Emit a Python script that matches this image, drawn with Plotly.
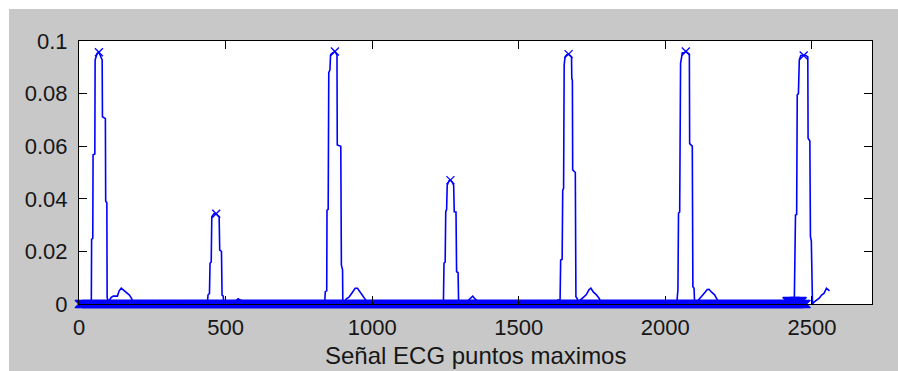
import plotly.graph_objects as go

# ---- data ----
signal_x = [
    0, 42, 43, 47, 48, 54, 55, 62, 68, 74, 79, 80, 90, 91, 95, 96, 99, 100,
    104, 110, 117, 131, 137, 144, 150, 157, 172, 180, 185,
    438, 440, 445, 447, 451, 453, 460, 468, 474, 478, 480, 486, 488, 492, 494,
    533, 538, 543, 550, 560, 570,
    838, 840, 845, 846, 850, 852, 856, 858, 865, 873, 880, 881, 893, 895, 899, 900,
    903, 912, 920, 930, 942, 950, 960, 970, 978, 982,
    1243, 1245, 1249, 1251, 1254, 1256, 1262, 1267, 1272, 1278, 1280, 1286, 1288, 1293, 1295,
    1315, 1325, 1335, 1343, 1350, 1360, 1372,
    1630, 1633, 1641, 1643, 1648, 1650, 1653, 1655, 1658, 1664, 1670, 1677, 1680, 1681,
    1683, 1684, 1693, 1695, 1700, 1702,
    1704, 1710, 1720, 1730, 1740, 1746, 1755, 1765, 1775, 1781,
    2039, 2041, 2043, 2045, 2049, 2052, 2055, 2058, 2064, 2070, 2076, 2082, 2083, 2092,
    2094, 2098, 2100,
    2105, 2113, 2122, 2132, 2143, 2149, 2158, 2168, 2178, 2184,
    2440, 2444, 2448, 2450, 2454, 2457, 2462, 2472, 2480, 2486, 2487, 2493, 2495, 2498,
    2500, 2502, 2508, 2516, 2525, 2533, 2541, 2550, 2560,
]
signal_y = [
    0, 0, 0.0246, 0.0250, 0.0567, 0.0570, 0.0928, 0.0953, 0.0957, 0.0940, 0.0928, 0.0712,
    0.0705, 0.0392, 0.0385, 0.0023, 0.0015, 0,
    0.0015, 0.0025, 0.0030, 0.0030, 0.0050, 0.0060, 0.0055, 0.0050, 0.0034, 0.0020, 0,
    0, 0.0034, 0.0040, 0.0155, 0.0160, 0.0332, 0.0343, 0.0343, 0.0335, 0.0332, 0.0205,
    0.0200, 0.0034, 0.0030, 0,
    0, 0.0015, 0.0020, 0.0015, 0.0010, 0,
    0, 0.0047, 0.0050, 0.0357, 0.0360, 0.0880, 0.0890, 0.0947, 0.0955, 0.0960, 0.0947,
    0.0605, 0.0600, 0.0148, 0.0130, 0,
    0, 0.0020, 0.0025, 0.0040, 0.0060, 0.0060, 0.0045, 0.0030, 0.0015, 0,
    0, 0.0155, 0.0160, 0.0351, 0.0360, 0.0452, 0.0468, 0.0471, 0.0465, 0.0452, 0.0351,
    0.0350, 0.0123, 0.0120, 0,
    0, 0.0010, 0.0020, 0.0030, 0.0020, 0.0010, 0,
    0, 0.0015, 0.0015, 0.0167, 0.0170, 0.0433, 0.0440, 0.0909, 0.0940, 0.0948, 0.0950,
    0.0945, 0.0940, 0.0858, 0.0850, 0.0510, 0.0500, 0.0028, 0.0020, 0,
    0, 0.0015, 0.0025, 0.0035, 0.0055, 0.0060, 0.0045, 0.0035, 0.0020, 0,
    0, 0.0053, 0.0055, 0.0345, 0.0350, 0.0915, 0.0930, 0.0955, 0.0955, 0.0960, 0.0955,
    0.0950, 0.0610, 0.0600, 0.0066, 0.0060, 0,
    0, 0.0015, 0.0025, 0.0040, 0.0055, 0.0056, 0.0045, 0.0035, 0.0015, 0,
    0.0010, 0.0338, 0.0340, 0.0795, 0.0800, 0.0928, 0.0945, 0.0945, 0.0945, 0.0940, 0.0630,
    0.0620, 0.0256, 0.0240, 0, 0, 0.0008, 0.0015, 0.0022, 0.0034, 0.0040, 0.0060, 0.0050,
]

# maxima (marked with x)
max_x = [68, 468, 873, 1267, 1670, 2070, 2472]
max_y = [0.0957, 0.0343, 0.0960, 0.0471, 0.0950, 0.0960, 0.0945]

# non-maximum samples are plotted as 'x' at (near) zero: sample-index spans and level
zero_span_start = [0, 2414]
zero_span_end = [2483, 2468]
zero_span_level = [0, 0.0011]
SAMPLE_STEP = 3  # every few sample indices are enough to form the solid band

x_ticks = [0, 500, 1000, 1500, 2000, 2500]
x_ticktext = ["0", "500", "1000", "1500", "2000", "2500"]
y_ticks = [0, 0.02, 0.04, 0.06, 0.08, 0.1]
y_ticktext = ["0", "0.02", "0.04", "0.06", "0.08", "0.1"]
x_title = "Señal ECG puntos maximos"

BLUE = "#0000ff"
GRAY = "#c8c8c8"
FONT = "Liberation Sans, Arial, sans-serif"

zero_x, zero_y = [], []
for s, e, lv in zip(zero_span_start, zero_span_end, zero_span_level):
    idx = list(range(s, e + 1, SAMPLE_STEP))
    zero_x += idx
    zero_y += [lv] * len(idx)

fig = go.Figure()
fig.add_trace(go.Scatter(
    x=zero_x, y=zero_y, mode="markers",
    marker=dict(symbol="x-thin", size=8, line=dict(color=BLUE, width=1.6)),
    cliponaxis=False, hoverinfo="skip", showlegend=False,
))
fig.add_trace(go.Scatter(
    x=signal_x, y=signal_y, mode="lines",
    line=dict(color=BLUE, width=1.6), hoverinfo="skip", showlegend=False,
))
fig.add_trace(go.Scatter(
    x=max_x, y=max_y, mode="markers",
    marker=dict(symbol="x-thin", size=8, line=dict(color=BLUE, width=1.3)),
    cliponaxis=False, hoverinfo="skip", showlegend=False,
))

W, H = 898, 371
L, R, T, B = 79, 26, 41, 67
pw, ph = W - L - R, H - T - B

fig.update_layout(
    width=W, height=H, autosize=False,
    margin=dict(l=L, r=R, t=T, b=B, pad=0, autoexpand=False),
    paper_bgcolor=GRAY, plot_bgcolor="#ffffff",
    font=dict(family=FONT, size=22, color="#161616"),
    showlegend=False,
    xaxis=dict(
        range=[0, 2705], tickvals=x_ticks, ticktext=x_ticktext,
        ticks="inside", ticklen=8, tickwidth=1, tickcolor="#000",
        showline=True, linecolor="#000", linewidth=1, mirror="ticks",
        showgrid=False, zeroline=False, automargin=False,
        ticklabelstandoff=4,
    ),
    yaxis=dict(
        range=[0, 0.1], tickvals=y_ticks, ticktext=y_ticktext,
        ticks="inside", ticklen=8, tickwidth=1, tickcolor="#000",
        showline=True, linecolor="#000", linewidth=1, mirror="ticks",
        showgrid=False, zeroline=False, automargin=False,
        ticklabelstandoff=6,
    ),
    annotations=[dict(
        text=x_title, xref="paper", yref="paper", x=0.5, y=-51 / ph,
        xanchor="center", yanchor="middle", showarrow=False,
        font=dict(size=24, family=FONT, color="#161616"),
    )],
    shapes=[
        dict(type="rect", xref="paper", yref="paper", layer="below",
             x0=-L / pw, x1=(-L + 9) / pw, y0=-B / ph, y1=(ph + T) / ph,
             fillcolor="#ffffff", line=dict(width=0)),
        dict(type="rect", xref="paper", yref="paper", layer="below",
             x0=-L / pw, x1=(pw + R) / pw, y0=(ph + T - 9) / ph, y1=(ph + T) / ph,
             fillcolor="#ffffff", line=dict(width=0)),
    ],
)

fig.write_html("out.html", config={"displayModeBar": False})
